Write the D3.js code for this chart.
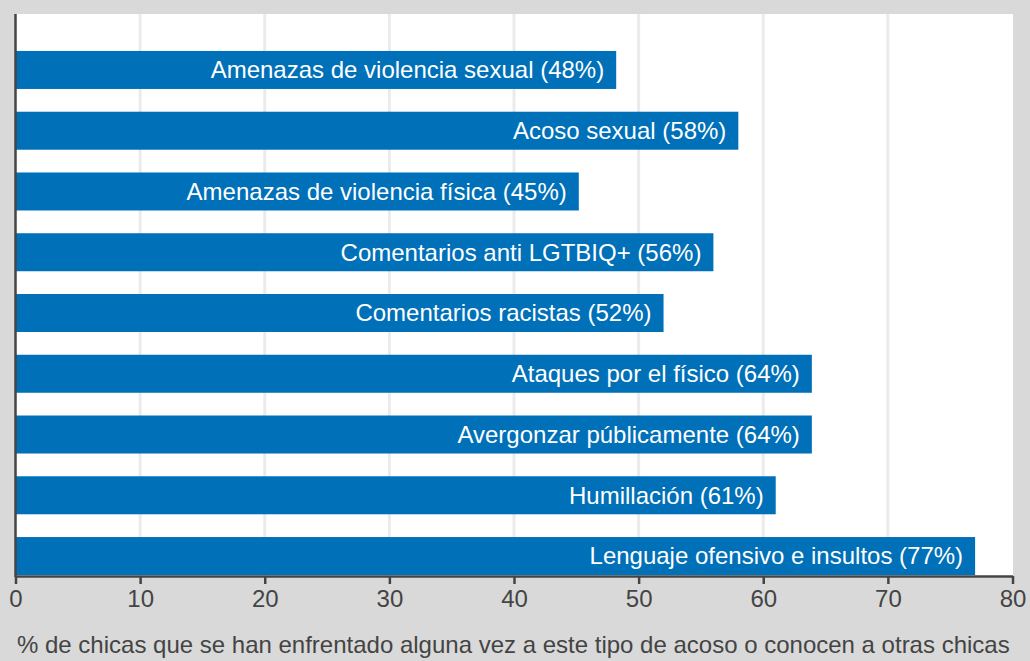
<!DOCTYPE html>
<html lang="es">
<head>
<meta charset="utf-8">
<script src="https://d3js.org/d3.v7.min.js"></script>
<style>
  body { margin: 0; background: #d9d9d9; }
  svg { font-family: "Liberation Sans", Arial, sans-serif; display: block; }
</style>
</head>
<body>
<div id="chart"></div>
<script>
// data
var categories = [
  "Amenazas de violencia sexual",
  "Acoso sexual",
  "Amenazas de violencia física",
  "Comentarios anti LGTBIQ+",
  "Comentarios racistas",
  "Ataques por el físico",
  "Avergonzar públicamente",
  "Humillación",
  "Lenguaje ofensivo e insultos"
];
var values = [48.2, 58, 45.2, 56, 52, 63.9, 63.9, 61, 77];
var xTicks = [0, 10, 20, 30, 40, 50, 60, 70, 80];
var xTitle = "% de chicas que se han enfrentado alguna vez a este tipo de acoso o conocen a otras chicas";

var W = 1030, H = 661;
var plot = {left: 15.5, right: 1012.5, top: 14, bottom: 576};

var svg = d3.select("#chart").append("svg")
  .attr("width", W).attr("height", H);

svg.append("rect").attr("width", W).attr("height", H).attr("fill", "#d9d9d9");
svg.append("rect")
  .attr("x", plot.left).attr("y", plot.top)
  .attr("width", plot.right - plot.left + 0.5)
  .attr("height", plot.bottom - plot.top)
  .attr("fill", "#ffffff");

var x = d3.scaleLinear().domain([0, 80]).range([plot.left, plot.right]);
var y = d3.scaleBand()
  .domain(categories)
  .range([39.6, 586.4])
  .paddingInner(0.3745)
  .paddingOuter(0.187);

// grid
svg.append("g").selectAll("line")
  .data(xTicks.slice(1, -1))
  .enter().append("line")
    .attr("x1", function(d) { return x(d); })
    .attr("x2", function(d) { return x(d); })
    .attr("y1", plot.top).attr("y2", plot.bottom)
    .attr("stroke", "#ebebeb")
    .attr("stroke-width", 3);

// bars
var bars = svg.append("g").selectAll("g")
  .data(categories)
  .enter().append("g");

bars.append("rect")
  .attr("x", x(0))
  .attr("y", function(d) { return y(d); })
  .attr("width", function(d, i) { return x(values[i]) - x(0); })
  .attr("height", y.bandwidth())
  .attr("fill", "#0070b8");

bars.append("text")
  .attr("x", function(d, i) { return x(values[i]) - 12; })
  .attr("y", function(d) { return y(d) + y.bandwidth() / 2; })
  .attr("dy", "0.35em")
  .attr("text-anchor", "end")
  .attr("fill", "#ffffff")
  .style("font-size", "24px")
  .text(function(d, i) { return d + " (" + Math.round(values[i]) + "%)"; });

// axes
var xAxis = svg.append("g")
  .attr("transform", "translate(0," + plot.bottom + ")")
  .call(d3.axisBottom(x).tickValues(xTicks).tickSize(8).tickSizeOuter(0).tickPadding(6));
xAxis.select(".domain").attr("stroke", "#444").attr("stroke-width", 2.5);
xAxis.selectAll(".tick line").attr("stroke", "#444").attr("stroke-width", 2.5);
xAxis.selectAll(".tick text")
  .attr("fill", "#444")
  .style("font-size", "24px")
  .style("font-family", "'Liberation Sans', Arial, sans-serif");

svg.append("line")
  .attr("x1", plot.left).attr("x2", plot.left)
  .attr("y1", plot.top).attr("y2", plot.bottom + 1)
  .attr("stroke", "#444").attr("stroke-width", 2.5);

svg.append("text")
  .attr("x", 17).attr("y", 653)
  .attr("fill", "#444")
  .style("font-size", "24px")
  .text(xTitle);
</script>
</body>
</html>
